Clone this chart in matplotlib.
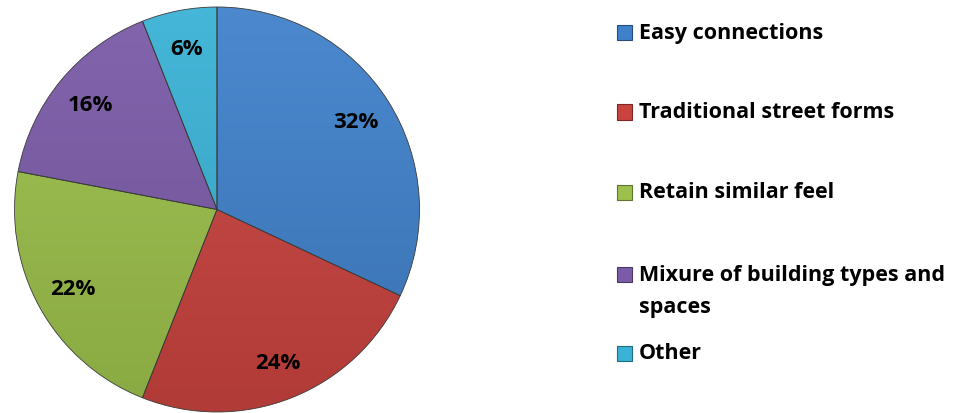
import numpy as np
import matplotlib.pyplot as plt
from matplotlib.colors import to_rgb
from matplotlib.patches import Rectangle

labels = ["Easy connections", "Traditional street forms", "Retain similar feel",
          "Mixure of building types and\nspaces", "Other"]
values = [32, 24, 22, 16, 6]
colors = ["#4081CB", "#C9433F", "#9CC04B", "#7B5BA8", "#3AB2D6"]

# legend rows: pixel y (from top) of each label's first line
legend_y = [33, 113, 193, 275, 354]

W, H = 960, 414
fig = plt.figure(figsize=(W / 100, H / 100), dpi=100)
fig.patch.set_facecolor("white")

cx, cy, r = 217, 210.5, 202.5
ax = fig.add_axes([(cx - r) / W, (H - cy - r) / H, 2 * r / W, 2 * r / H])
ax.axis("off")

font = "Open Sans"

wedges, texts, autotexts = ax.pie(
    values, colors=colors, startangle=90, counterclock=False, radius=1,
    autopct="%d%%", pctdistance=0.81,
    wedgeprops=dict(edgecolor="#3a3a3a", linewidth=0.6),
    textprops=dict(fontsize=16, fontweight="bold", color="black", family=font),
)


def shade(c, f):
    c = np.array(to_rgb(c))
    if f > 1:
        return c + (1 - c) * (f - 1)
    return c * f


# soft vertical gradient inside each slice
grad = np.linspace(0, 1, 256)[:, None]
for w, c in zip(wedges, colors):
    top = shade(c, 1.06)
    bot = shade(c, 0.88)
    img = top[None, None, :] * (1 - grad[:, :, None]) + bot[None, None, :] * grad[:, :, None]
    im = ax.imshow(img, extent=(-1, 1, -1, 1), origin="upper", zorder=w.get_zorder() + 0.1,
                   aspect="auto", interpolation="bilinear")
    im.set_clip_path(w)
    w.set_facecolor("none")
    w.set_zorder(w.get_zorder() + 0.2)
ax.set_xlim(-1, 1)
ax.set_ylim(-1, 1)
ax.set_aspect("equal")

for t in autotexts:
    t.set_zorder(5)

# legend drawn by hand
sq = 15
for lab, y, c in zip(labels, legend_y, colors):
    fig.patches.append(Rectangle((617 / W, (H - y - sq / 2) / H), sq / W, sq / H,
                                 transform=fig.transFigure, facecolor=c,
                                 edgecolor=shade(c, 0.6), linewidth=0.8))
    for k, line in enumerate(lab.split("\n")):
        fig.text(639 / W, (H - y - 33 * k) / H, line, ha="left", va="center",
                 fontsize=15.5, fontweight="bold", family=font)

fig.savefig("out.png", dpi=100, facecolor="white")
